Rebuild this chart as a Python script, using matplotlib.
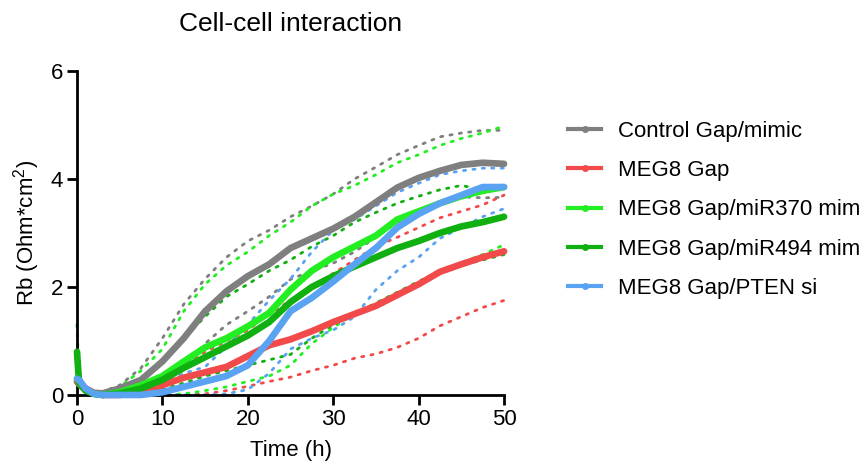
import matplotlib
matplotlib.use("Agg")
import matplotlib.pyplot as plt
from matplotlib.lines import Line2D

plt.rcParams["font.family"] = ["Liberation Sans", "DejaVu Sans"]
plt.rcParams["mathtext.fontset"] = "custom"
plt.rcParams["mathtext.rm"] = "Liberation Sans"
plt.rcParams["mathtext.it"] = "Liberation Sans"

# time points (h)
time_h = [0, 0.25, 1, 2, 3, 5, 7.5,
          10, 12.5, 15, 17.5, 20, 22.5, 25, 27.5, 30, 32.5, 35, 37.5, 40,
          42.5, 45, 47.5, 50]

# legend texts as they appear (the two long ones run into the right edge)
labels = ["Control Gap/mimic", "MEG8 Gap", "MEG8 Gap/miR370 mim",
          "MEG8 Gap/miR494 mim", "MEG8 Gap/PTEN si"]
colours = ["#7f7f7f", "#f24a4a", "#22ee22", "#10b010", "#5aa2f2"]

# mean curves
ctrl_mean = [0.25, 0.2, 0.12, 0.04, 0.03, 0.12, 0.28,
             0.62, 1.05, 1.55, 1.92, 2.2, 2.42, 2.72, 2.9, 3.08, 3.3, 3.57,
             3.84, 4.02, 4.15, 4.26, 4.3, 4.28]
meg8_mean = [0.25, 0.2, 0.12, 0.03, 0.0, 0.0, 0.05,
             0.18, 0.32, 0.42, 0.52, 0.72, 0.92, 1.03, 1.18, 1.35, 1.5, 1.65,
             1.85, 2.05, 2.28, 2.42, 2.55, 2.66]
mir370_mean = [0.3, 0.22, 0.1, 0.02, 0.0, 0.05, 0.18,
               0.35, 0.62, 0.88, 1.05, 1.27, 1.52, 1.95, 2.3, 2.55, 2.75, 2.95,
               3.25, 3.4, 3.55, 3.68, 3.78, 3.85]
mir494_mean = [0.8, 0.22, 0.08, 0.02, 0.0, 0.03, 0.12,
               0.28, 0.5, 0.7, 0.9, 1.1, 1.35, 1.72, 2.0, 2.2, 2.38, 2.55,
               2.72, 2.85, 3.0, 3.12, 3.2, 3.3]
pten_mean = [0.3, 0.28, 0.12, 0.02, 0.0, 0.0, 0.0,
             0.05, 0.15, 0.25, 0.35, 0.55, 1.0, 1.55, 1.8, 2.1, 2.42, 2.72,
             3.1, 3.35, 3.55, 3.7, 3.85, 3.85]

# upper / lower dotted bounds
ctrl_hi = [0.28, 0.22, 0.12, 0.05, 0.06, 0.18, 0.5,
           1.05, 1.68, 2.15, 2.55, 2.85, 3.05, 3.3, 3.5, 3.72, 4.0, 4.22,
           4.45, 4.62, 4.78, 4.85, 4.9, 4.9]
ctrl_lo = [0.2, 0.15, 0.08, 0.02, 0.0, 0.03, 0.08,
           0.2, 0.5, 0.95, 1.3, 1.55, 1.82, 2.14, 2.3, 2.44, 2.65, 2.92,
           3.2, 3.42, 3.55, 3.67, 3.65, 3.66]
meg8_hi = [0.3, 0.22, 0.14, 0.05, 0.02, 0.02, 0.1,
           0.3, 0.55, 0.8, 1.0, 1.2, 1.5, 1.75, 2.0, 2.25, 2.5, 2.75,
           2.92, 3.1, 3.28, 3.4, 3.52, 3.7]
meg8_lo = [0.2, 0.15, 0.06, 0.0, 0.0, 0.0, 0.0,
           0.0, 0.0, 0.02, 0.08, 0.16, 0.25, 0.33, 0.45, 0.55, 0.68, 0.76,
           0.88, 1.05, 1.28, 1.45, 1.62, 1.75]
mir370_hi = [0.35, 0.3, 0.12, 0.05, 0.05, 0.15, 0.45,
             0.85, 1.55, 2.05, 2.4, 2.65, 2.95, 3.2, 3.5, 3.72, 3.88, 4.08,
             4.3, 4.45, 4.62, 4.75, 4.85, 4.98]
mir370_lo = [0.2, 0.15, 0.06, 0.0, 0.0, 0.0, 0.0,
             0.0, 0.02, 0.08, 0.15, 0.25, 0.35, 0.55, 0.95, 1.25, 1.5, 1.7,
             1.9, 2.1, 2.3, 2.45, 2.6, 2.78]
mir494_hi = [1.3, 0.3, 0.12, 0.05, 0.04, 0.08, 0.25,
             0.6, 1.05, 1.45, 1.82, 2.05, 2.3, 2.5, 2.75, 2.95, 3.2, 3.38,
             3.55, 3.68, 3.8, 3.88, 3.8, 3.85]
mir494_lo = [0.3, 0.15, 0.05, 0.0, 0.0, 0.0, 0.02,
             0.1, 0.22, 0.35, 0.45, 0.55, 0.65, 0.75, 1.05, 1.3, 1.5, 1.7,
             1.9, 2.1, 2.28, 2.4, 2.5, 2.6]
pten_hi = [0.35, 0.3, 0.15, 0.05, 0.02, 0.02, 0.05,
           0.2, 0.4, 0.52, 0.9, 1.3, 1.75, 2.15, 2.65, 3.05, 3.25, 3.5,
           3.75, 3.92, 4.08, 4.15, 4.2, 4.2]
pten_lo = [0.25, 0.22, 0.08, 0.0, 0.0, 0.0, 0.0,
           0.0, 0.0, 0.0, 0.02, 0.1, 0.4, 0.85, 1.05, 1.2, 1.45, 1.95,
           2.3, 2.55, 2.9, 3.1, 3.3, 3.45]

means = [ctrl_mean, meg8_mean, mir370_mean, mir494_mean, pten_mean]
his = [ctrl_hi, meg8_hi, mir370_hi, mir494_hi, pten_hi]
los = [ctrl_lo, meg8_lo, mir370_lo, mir494_lo, pten_lo]

fig = plt.figure(figsize=(8.68, 4.73), dpi=100)
ax = fig.add_axes([0.0887, 0.165, 0.492, 0.685])

for hi, lo, c in zip(his, los, colours):
    for bound in (hi, lo):
        ax.plot(time_h, bound, color=c, lw=2.0, ls=(0, (0.8, 2.6)),
                dash_capstyle="round", clip_on=False, zorder=2)

for m, c in zip(means, colours):
    ax.plot(time_h, m, color=c, lw=4.8, solid_capstyle="round",
            solid_joinstyle="round", clip_on=False, zorder=3)

ax.set_xlim(0, 50)
ax.set_ylim(0, 6)
ax.set_xticks([0, 10, 20, 30, 40, 50])
ax.set_yticks([0, 2, 4, 6])
ax.spines[["top", "right"]].set_visible(False)
for s in ("left", "bottom"):
    ax.spines[s].set_linewidth(2)
ax.tick_params(direction="out", length=7, width=2, labelsize=16, pad=3)
ax.set_xlabel("Time (h)", fontsize=16, labelpad=7)
ax.set_ylabel("Rb (Ohm*cm$^2$)", fontsize=16, labelpad=6)
ax.set_title("Cell-cell interaction", fontsize=19, pad=29)

handles = [Line2D([0], [0], color=c, lw=3, marker="o", markersize=4)
           for c in colours]
fig.legend(handles, labels, loc="upper left",
           bbox_to_anchor=(568 / 868, (473 - 121) / 473),
           frameon=False, fontsize=16, handlelength=1.5, handletextpad=0.75,
           labelspacing=0.82, borderpad=0, borderaxespad=0)

fig.savefig("out.png", dpi=100)
